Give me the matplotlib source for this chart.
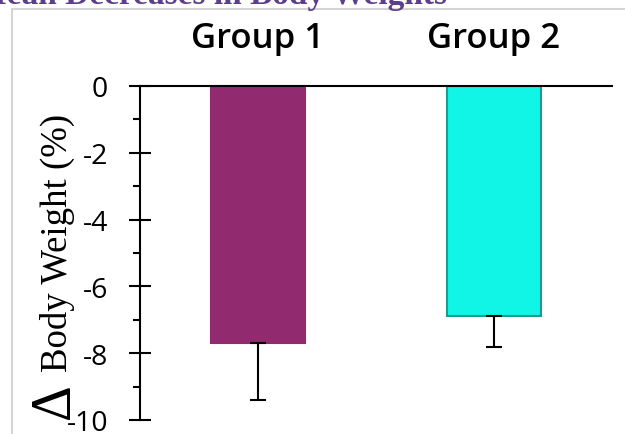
import matplotlib
matplotlib.use("Agg")
import matplotlib.pyplot as plt
from matplotlib.lines import Line2D
from matplotlib.ticker import MultipleLocator

# Data
groups = ["Group 1", "Group 2"]
mean_change = [-7.7, -6.9]
sem_change = [1.7, 0.9]
bar_colors = ["#922a70", "#10f5e6"]
edge_colors = ["#922a70", "#1f9a92"]
y_ticks = [0, -2, -4, -6, -8, -10]

plt.rcParams["axes.unicode_minus"] = False

W, H = 625, 435
fig = plt.figure(figsize=(W / 100, H / 100), dpi=100)

# slide frame
fig.add_artist(Line2D([12 / W, 1.0], [1 - 10 / H, 1 - 10 / H], color="#d4d4d4", lw=1.5))
fig.add_artist(Line2D([12 / W, 12 / W], [0, 1 - 10 / H], color="#d4d4d4", lw=1.5))

# slide title, partly above the top edge
fig.text(447 / W, 1 - 4 / H, "Mean Decreases in Body Weights", ha="right", va="baseline",
         fontsize=24, family="Liberation Serif", fontweight="bold", color="#5c3e8c")

ax = fig.add_axes([140 / W, 1 - 421 / H, (612 - 140) / W, (421 - 87) / H])
x = list(range(len(groups)))
ax.bar(x, mean_change, width=0.40, color=bar_colors, edgecolor=edge_colors, linewidth=1.5, zorder=2)
ax.errorbar(x, mean_change, yerr=[sem_change, [0] * len(sem_change)], fmt="none",
            ecolor="black", elinewidth=1.5, capsize=5.5, capthick=1.5, zorder=3)

ax.set_xlim(-0.5, 1.5)
ax.set_ylim(-10, 0)
ax.set_yticks(y_ticks)
ax.set_yticklabels([str(t) for t in y_ticks], family="Open Sans", fontsize=20.5)
ax.yaxis.set_minor_locator(MultipleLocator(1))
ax.tick_params(axis="y", which="major", direction="inout", length=16, width=1.5, pad=15)
ax.tick_params(axis="y", which="minor", direction="out", length=5, width=1.5)

ax.xaxis.tick_top()
ax.set_xticks(x)
ax.set_xticklabels(groups, family="Open Sans", fontsize=25, fontweight="semibold")
ax.tick_params(axis="x", length=0, pad=22)

for side in ["bottom", "right"]:
    ax.spines[side].set_visible(False)
for side in ["top", "left"]:
    ax.spines[side].set_linewidth(1.5)

# y-axis title with an enlarged delta sign
fig.text(57 / W, 1 - 243 / H, "Body Weight (%)", rotation=90, ha="center", va="center",
         family="Liberation Serif", fontsize=26.5)
fig.text(55 / W, 1 - 401 / H, "Δ", rotation=90, ha="center", va="center",
         family="Liberation Serif", fontsize=40)

fig.savefig("out.png", dpi=100)
